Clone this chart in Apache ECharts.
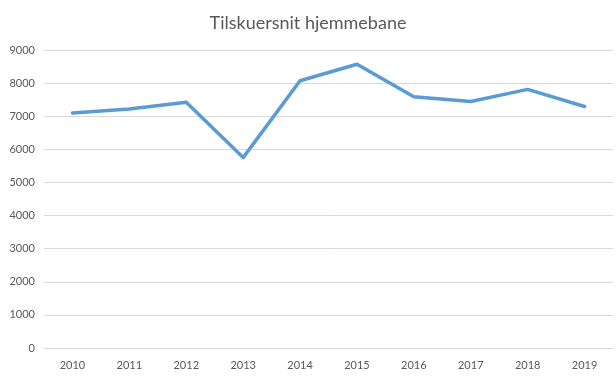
<!DOCTYPE html>
<html><head><meta charset="utf-8">
<script src="https://cdn.jsdelivr.net/npm/echarts@6/dist/echarts.min.js"></script>
<style>html,body{margin:0;padding:0;background:#fff}#c{width:616px;height:380px}</style>
</head><body><div id="c"></div>
<script>
const years = ['2010','2011','2012','2013','2014','2015','2016','2017','2018','2019'];
const attendance = [7100, 7220, 7425, 5750, 8070, 8570, 7590, 7445, 7810, 7295];
const yTicks = {min: 0, max: 9000, interval: 1000};
const chart = echarts.init(document.getElementById('c'));
chart.setOption({
  animation: false,
  title: {text: 'Tilskuersnit hjemmebane', left: 'center', top: 9,
    textStyle: {fontFamily: 'Lato', fontSize: 18, fontWeight: 'normal', color: '#595959'}},
  grid: {left: 44, right: 3, top: 50, bottom: 32},
  xAxis: {type: 'category', data: years, boundaryGap: true,
    axisLine: {lineStyle: {color: '#d9d9d9'}}, axisTick: {show: false},
    axisLabel: {fontFamily: 'Lato', fontSize: 11, color: '#595959', margin: 12}},
  yAxis: {type: 'value', min: yTicks.min, max: yTicks.max, interval: yTicks.interval,
    axisLine: {show: false}, axisTick: {show: false},
    splitLine: {lineStyle: {color: '#d9d9d9'}},
    axisLabel: {fontFamily: 'Lato', fontSize: 11, color: '#595959', margin: 9,
      formatter: v => String(v)}},
  series: [{type: 'line', data: attendance, showSymbol: false,
    lineStyle: {color: '#5b9bd5', width: 3.5, cap: 'round', join: 'round'}}]
});
</script></body></html>
